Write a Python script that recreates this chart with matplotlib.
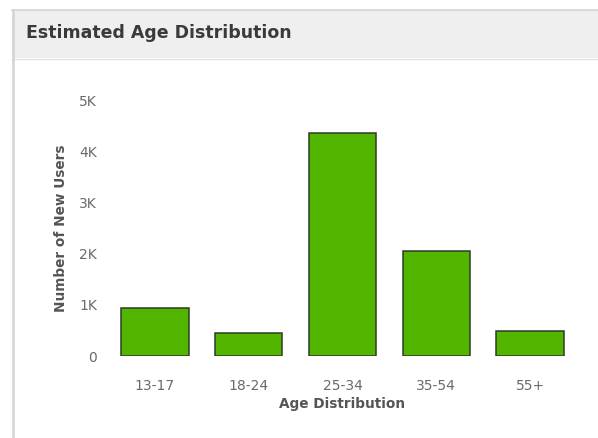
import matplotlib
matplotlib.use("Agg")
import matplotlib.pyplot as plt
from matplotlib.patches import Rectangle
from matplotlib.lines import Line2D

# Data
age_groups = ["13-17", "18-24", "25-34", "35-54", "55+"]
new_users = [940, 450, 4360, 2050, 490]
y_ticks = [0, 1000, 2000, 3000, 4000, 5000]
y_tick_labels = ["0", "1K", "2K", "3K", "4K", "5K"]

W, H = 598, 438
fig = plt.figure(figsize=(W / 100, H / 100), dpi=100)
fig.patch.set_facecolor("white")

# Panel header strip and borders
fig.patches.append(Rectangle((12 / W, 1 - 58 / H), 1 - 12 / W, 48 / H,
                             transform=fig.transFigure, facecolor="#efefef",
                             edgecolor="none", zorder=0))
fig.lines.append(Line2D([12 / W, 1], [1 - 9.5 / H, 1 - 9.5 / H],
                        transform=fig.transFigure, color="#d4d4d4", lw=1.2))
fig.lines.append(Line2D([12 / W, 1], [1 - 58.5 / H, 1 - 58.5 / H],
                        transform=fig.transFigure, color="#e2e2e2", lw=1.0))
fig.lines.append(Line2D([13 / W, 13 / W], [0, 1 - 9.5 / H],
                        transform=fig.transFigure, color="#d4d4d4", lw=1.8))
fig.text(26 / W, 1 - 33 / H, "Estimated Age Distribution", fontsize=12.5,
         fontweight="bold", color="#3a3a3a", va="center", ha="left")

ax = fig.add_axes([108 / W, 82 / H, 469 / W, 256 / H])
x = range(len(age_groups))
ax.bar(x, new_users, width=0.72, color="#52b500", edgecolor="#2f3a28",
       linewidth=1.1)
ax.set_xlim(-0.5, len(age_groups) - 0.5)
ax.set_ylim(0, 5000)
ax.set_xticks(list(x))
ax.set_xticklabels(age_groups)
ax.set_yticks(y_ticks)
ax.set_yticklabels(y_tick_labels)
ax.tick_params(length=0, labelsize=10, colors="#6a6a6a")
ax.tick_params(axis="x", pad=16.5)
ax.tick_params(axis="y", pad=8)
for s in ax.spines.values():
    s.set_visible(False)
ax.set_xlabel("Age Distribution", fontsize=9.8, fontweight="bold",
              color="#555555", labelpad=3)
ax.set_ylabel("Number of New Users", fontsize=9.8, fontweight="bold",
              color="#555555", labelpad=8)

fig.savefig("out.png", dpi=100)
